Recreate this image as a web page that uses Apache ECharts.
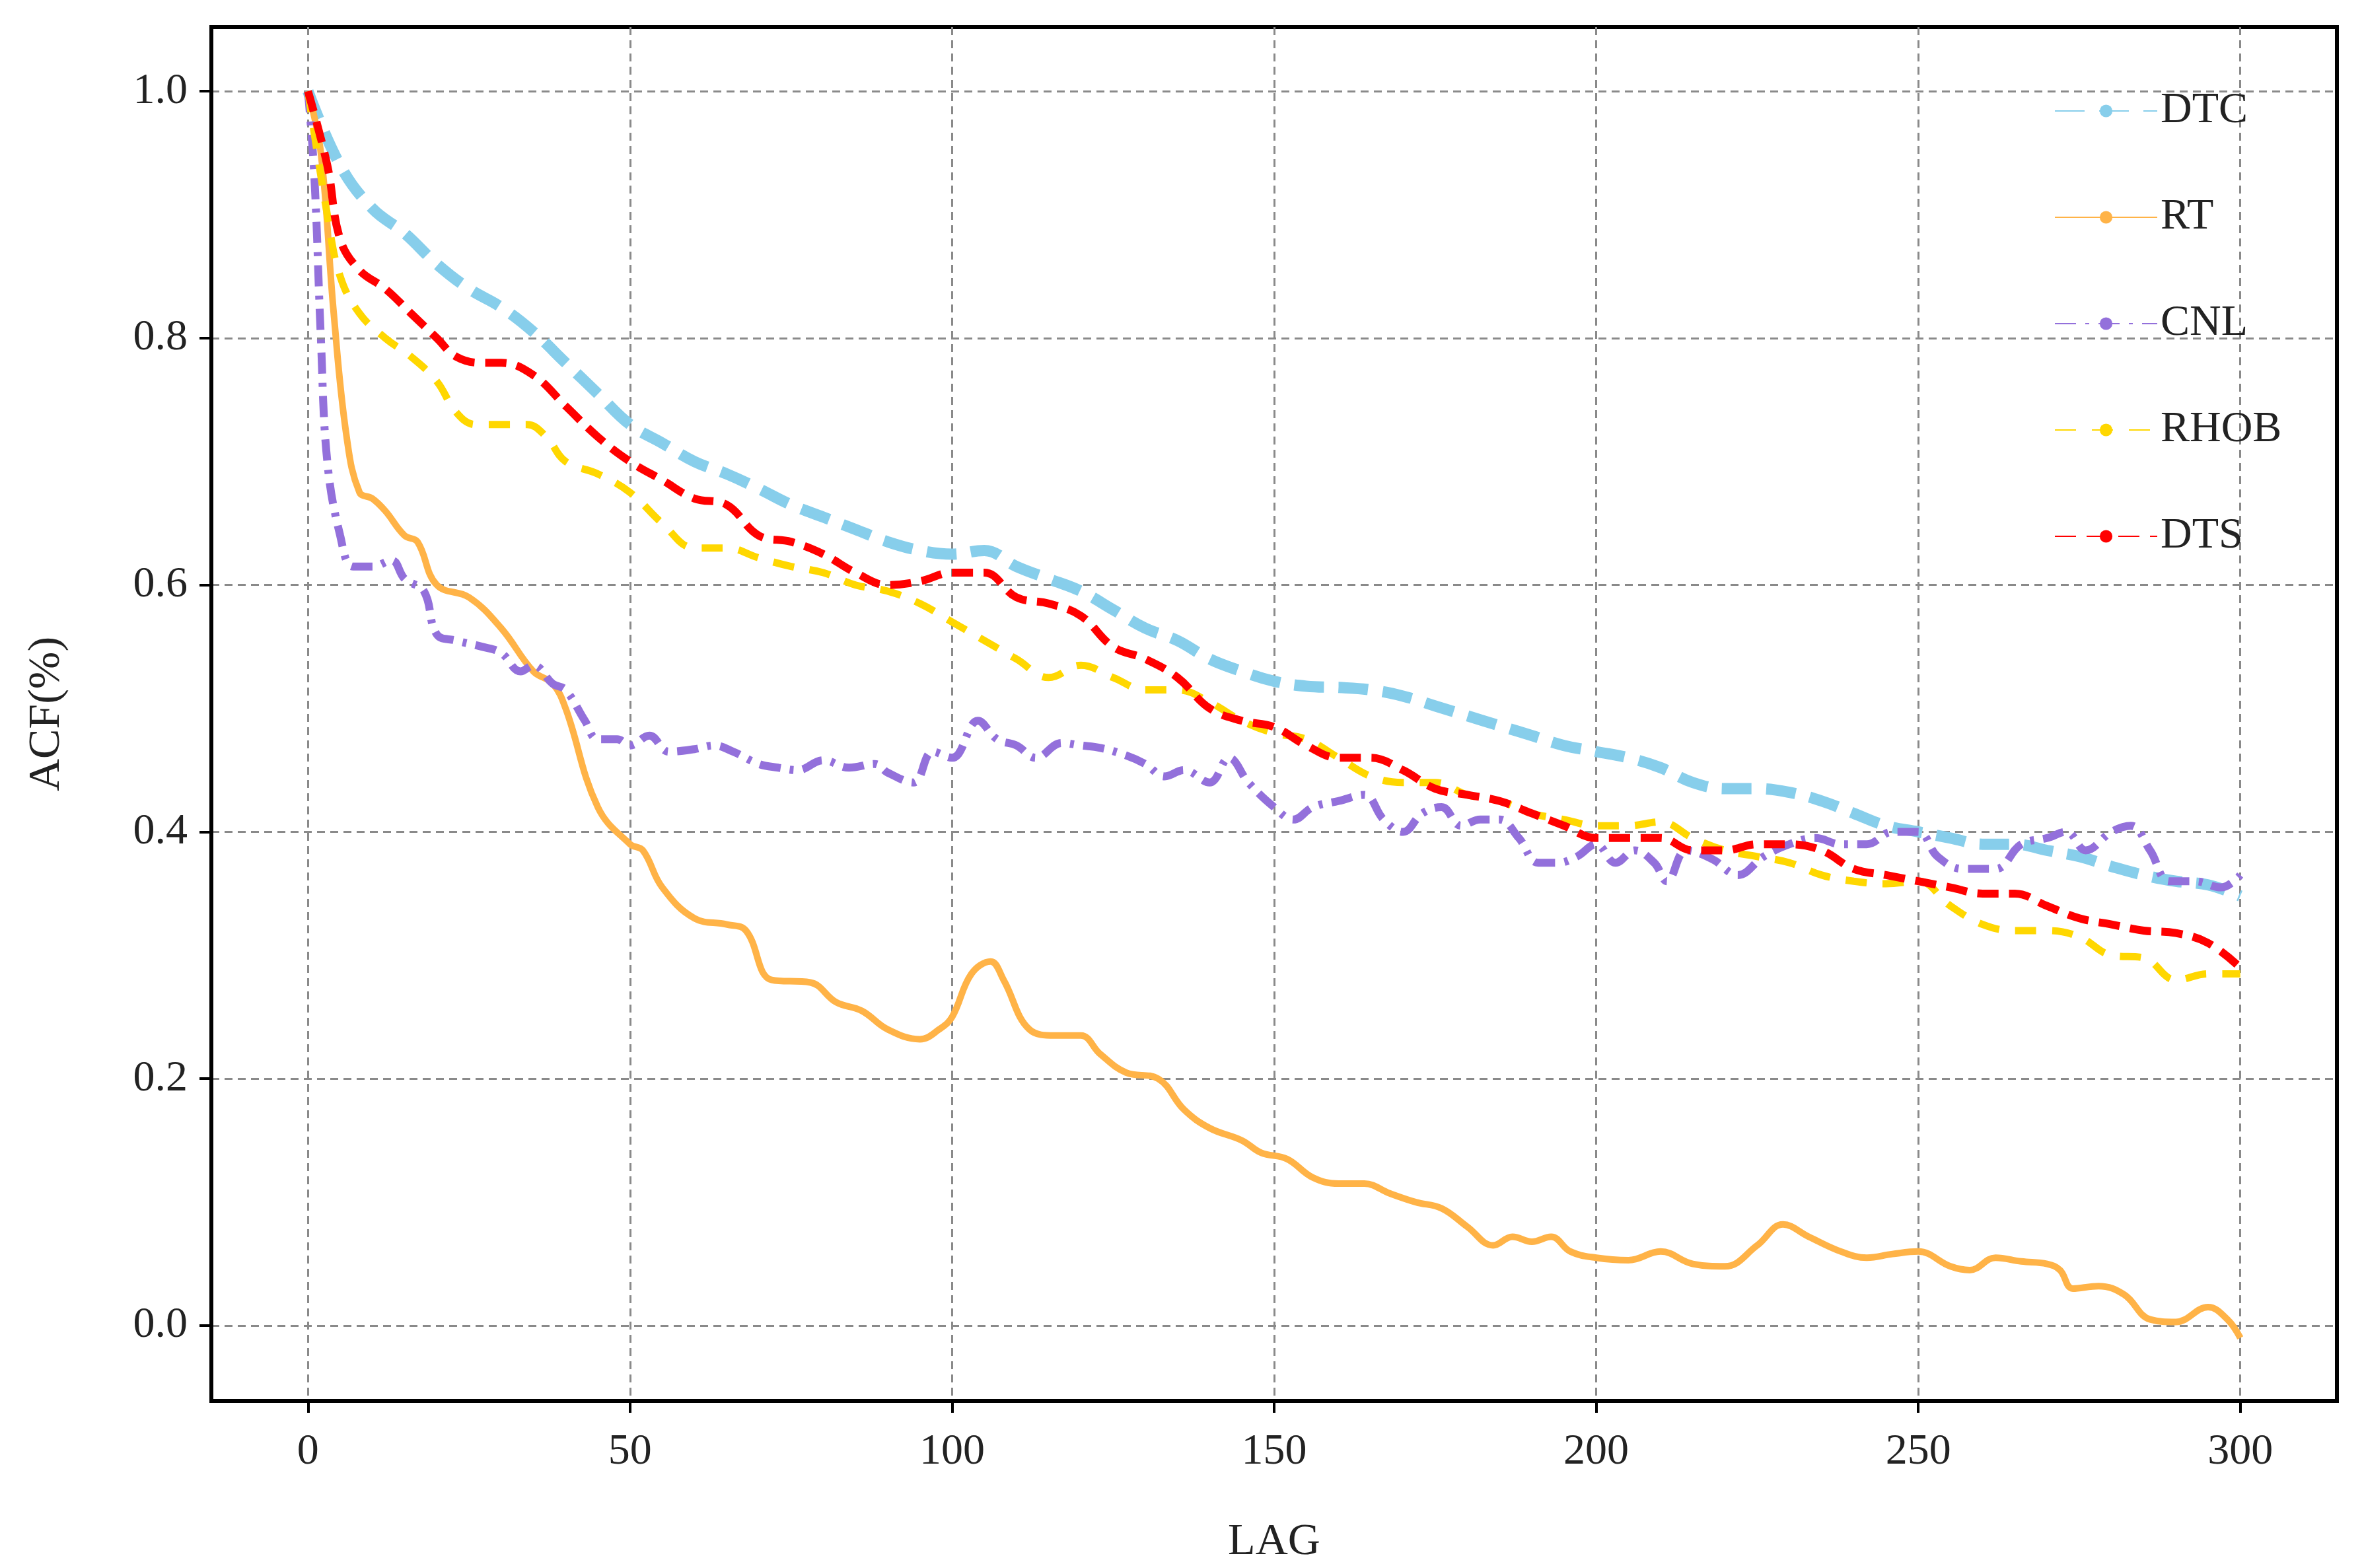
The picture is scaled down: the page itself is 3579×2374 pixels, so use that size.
<!DOCTYPE html>
<html><head><meta charset="utf-8">
<script src="https://cdn.jsdelivr.net/npm/echarts@6/dist/echarts.min.js"></script>
<style>html,body{margin:0;padding:0;background:#fff}#c{width:3579px;height:2374px}</style>
</head><body><div id="c"></div>
<script>
const tickX = [0,50,100,150,200,250,300];
const tickY = [0,0.2,0.4,0.6,0.8,1.0];
const dtc = [[0,1.0],[5,0.94],[10,0.905],[15,0.885],[20,0.86],[25,0.84],[30,0.825],[35,0.805],[40,0.78],[45,0.755],[50,0.73],[55,0.715],[60,0.70],[65,0.69],[70,0.678],[75,0.665],[80,0.655],[85,0.645],[90,0.635],[95,0.628],[100,0.625],[105,0.628],[110,0.615],[115,0.605],[120,0.595],[125,0.58],[130,0.565],[135,0.555],[140,0.54],[145,0.53],[150,0.522],[155,0.518],[160,0.517],[165,0.515],[170,0.51],[175,0.502],[180,0.494],[185,0.486],[190,0.478],[195,0.47],[200,0.465],[205,0.46],[210,0.452],[215,0.44],[220,0.435],[225,0.435],[230,0.432],[235,0.425],[240,0.415],[245,0.405],[250,0.40],[255,0.395],[260,0.39],[265,0.39],[270,0.385],[275,0.38],[280,0.372],[285,0.365],[290,0.36],[295,0.357],[300,0.348]];
const rt = [[0,1.0],[2,0.95],[4,0.82],[6,0.72],[8,0.675],[10,0.67],[12,0.66],[15,0.64],[17,0.635],[20,0.6],[25,0.59],[30,0.565],[35,0.53],[38,0.52],[40,0.5],[45,0.42],[50,0.39],[52,0.385],[55,0.355],[60,0.33],[65,0.325],[68,0.32],[72,0.28],[78,0.278],[82,0.262],[86,0.255],[90,0.24],[95,0.232],[98,0.24],[100,0.25],[103,0.285],[106,0.295],[108,0.28],[112,0.24],[116,0.235],[120,0.235],[123,0.22],[127,0.205],[132,0.2],[136,0.175],[140,0.16],[145,0.15],[148,0.14],[152,0.135],[156,0.12],[160,0.115],[164,0.115],[168,0.107],[172,0.1],[176,0.095],[180,0.08],[184,0.065],[187,0.072],[190,0.068],[193,0.072],[196,0.06],[200,0.055],[205,0.053],[210,0.06],[215,0.05],[220,0.048],[225,0.065],[229,0.082],[233,0.072],[238,0.06],[242,0.055],[246,0.058],[250,0.06],[255,0.048],[258,0.045],[262,0.055],[266,0.052],[270,0.05],[272,0.045],[274,0.03],[278,0.032],[282,0.025],[286,0.005],[290,0.003],[295,0.015],[298,0.005],[300,-0.01]];
const cnl = [[0,1.0],[1,0.93],[2,0.8],[3,0.7],[5,0.64],[7,0.615],[10,0.615],[13,0.62],[15,0.605],[18,0.595],[20,0.56],[23,0.555],[27,0.55],[30,0.545],[33,0.53],[35,0.535],[38,0.52],[40,0.515],[43,0.49],[45,0.475],[48,0.475],[50,0.47],[53,0.478],[56,0.465],[60,0.467],[63,0.47],[66,0.465],[70,0.455],[73,0.452],[76,0.45],[80,0.458],[84,0.452],[88,0.455],[90,0.448],[94,0.44],[97,0.465],[100,0.46],[104,0.49],[107,0.475],[110,0.47],[113,0.46],[117,0.472],[120,0.47],[123,0.468],[127,0.462],[130,0.455],[133,0.445],[136,0.45],[140,0.44],[143,0.46],[146,0.44],[150,0.42],[153,0.41],[156,0.42],[160,0.425],[164,0.43],[167,0.41],[170,0.40],[173,0.415],[176,0.42],[179,0.405],[182,0.41],[185,0.41],[188,0.395],[191,0.375],[194,0.375],[197,0.38],[200,0.39],[203,0.375],[206,0.385],[209,0.375],[211,0.36],[214,0.385],[218,0.378],[222,0.365],[226,0.38],[230,0.39],[234,0.395],[238,0.39],[242,0.39],[246,0.4],[250,0.4],[253,0.38],[257,0.37],[262,0.37],[266,0.39],[270,0.395],[273,0.4],[276,0.385],[280,0.4],[283,0.405],[286,0.385],[289,0.36],[293,0.36],[297,0.355],[300,0.365]];
const rhob = [[0,1.0],[3,0.9],[5,0.85],[8,0.82],[12,0.8],[16,0.785],[20,0.765],[23,0.74],[26,0.73],[30,0.73],[34,0.73],[37,0.72],[40,0.7],[45,0.69],[50,0.675],[55,0.65],[60,0.63],[65,0.63],[70,0.622],[75,0.615],[80,0.61],[85,0.6],[90,0.595],[95,0.585],[100,0.57],[105,0.555],[110,0.54],[115,0.525],[120,0.535],[125,0.525],[130,0.515],[135,0.515],[140,0.505],[145,0.49],[150,0.48],[155,0.475],[160,0.46],[165,0.445],[170,0.44],[175,0.44],[180,0.43],[185,0.425],[190,0.415],[195,0.41],[200,0.405],[205,0.405],[210,0.408],[215,0.395],[220,0.385],[225,0.38],[230,0.375],[235,0.365],[240,0.36],[245,0.358],[250,0.36],[255,0.34],[260,0.325],[265,0.32],[270,0.32],[275,0.315],[280,0.3],[285,0.298],[290,0.28],[295,0.285],[300,0.285]];
const dts = [[0,1.0],[3,0.94],[5,0.88],[8,0.855],[12,0.84],[16,0.82],[20,0.8],[23,0.785],[27,0.78],[30,0.78],[35,0.77],[40,0.745],[45,0.72],[50,0.7],[55,0.685],[60,0.67],[65,0.665],[70,0.64],[75,0.635],[80,0.625],[85,0.61],[90,0.6],[95,0.603],[100,0.61],[105,0.61],[110,0.59],[115,0.585],[120,0.575],[125,0.55],[130,0.54],[135,0.525],[140,0.5],[145,0.49],[150,0.485],[155,0.47],[160,0.46],[165,0.46],[170,0.45],[175,0.435],[180,0.43],[185,0.425],[190,0.415],[195,0.405],[200,0.395],[205,0.395],[210,0.395],[215,0.385],[220,0.385],[225,0.39],[230,0.39],[235,0.385],[240,0.37],[245,0.365],[250,0.36],[255,0.355],[260,0.35],[265,0.35],[270,0.34],[275,0.33],[280,0.325],[285,0.32],[290,0.318],[295,0.31],[300,0.29]];

const F = 'Liberation Serif';
const chart = echarts.init(document.getElementById('c'));
function ser(name, data, color, width, type) {
  return {name, type:'line', data, smooth:0.4, showSymbol:false, symbol:'none',
    lineStyle:{color, width, type}, itemStyle:{color}};
}
const axisCommon = {
  axisLine:{show:true, onZero:false, lineStyle:{color:'#000', width:6}},
  axisTick:{show:true, length:18, lineStyle:{color:'#000', width:4}},
  splitLine:{show:true, lineStyle:{color:'#8a8a8a', width:3, type:[12,8]}},
  nameTextStyle:{fontFamily:F, fontSize:68, color:'#222'},
};
chart.setOption({
  backgroundColor:'#fff',
  animation:false,
  grid:{left:320, right:41, top:41, bottom:240, show:true, borderColor:'#000', borderWidth:6},
  legend:{orient:'vertical', left:3105, top:130, itemWidth:155, itemHeight:24, itemGap:95,
    textStyle:{fontFamily:F, fontSize:66, color:'#222'},
    data:['DTC','RT','CNL','RHOB','DTS']},
  xAxis:Object.assign({}, axisCommon, {type:'value', min:-15, max:315, name:'LAG', nameLocation:'middle', nameGap:180,
    axisTick:Object.assign({}, axisCommon.axisTick, {customValues:tickX}),
    axisLabel:{customValues:tickX, fontFamily:F, fontSize:66, color:'#222', margin:45}}),
  yAxis:Object.assign({}, axisCommon, {type:'value', min:-0.061, max:1.052, name:'ACF(%)', nameLocation:'middle', nameGap:215,
    axisTick:Object.assign({}, axisCommon.axisTick, {customValues:tickY}),
    axisLabel:{customValues:tickY, fontFamily:F, fontSize:66, color:'#222', margin:36, formatter:v=>v.toFixed(1)}}),
  series:[
    ser('DTC', dtc, '#87CEEB', 17, [45,22]),
    ser('RT', rt, '#FFB347', 10, 'solid'),
    ser('CNL', cnl, '#9370DB', 12, [32,14,6,14]),
    ser('RHOB', rhob, '#FFD700', 11, [32,24]),
    ser('DTS', dts, '#FF0000', 12, [32,16])
  ]
});
</script></body></html>
